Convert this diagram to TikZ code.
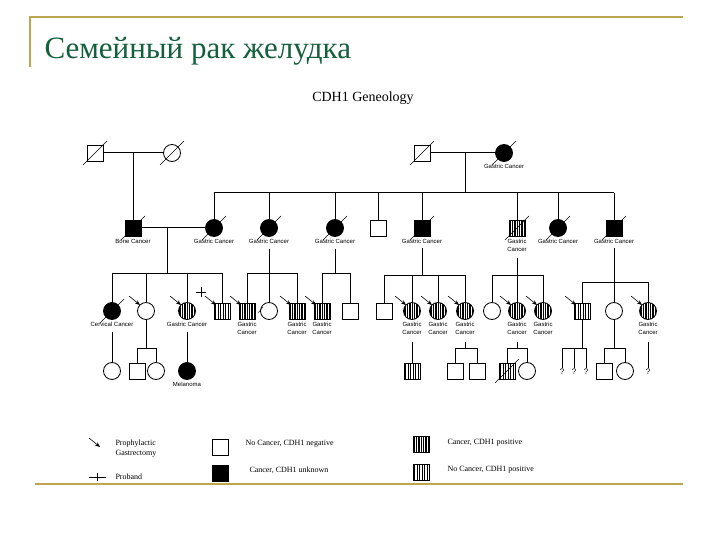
\documentclass[tikz,border=0pt]{standalone}
\usepackage{fontspec}
\setmainfont{Liberation Serif}
\newfontfamily\lab{Liberation Sans}
\usetikzlibrary{calc,arrows.meta}
\begin{document}
\begin{tikzpicture}[x=1pt,y=-1pt,line width=1pt,
 sq/.style={draw,rectangle,minimum size=16pt,inner sep=0pt,fill=white,line width=0.8pt},
 ci/.style={draw,circle,minimum size=17pt,inner sep=0pt,fill=white,line width=0.8pt},
 blk/.style={fill=black},
 dense/.style={path picture={\fill[black](path picture bounding box.south west) rectangle (path picture bounding box.north east);
   \foreach \i in {-6,-3.6,...,7}{\draw[white,line width=0.35pt]([xshift=\i pt]path picture bounding box.south)--([xshift=\i pt]path picture bounding box.north);}}},
 light/.style={path picture={\foreach \i in {-6.5,-4,...,7}{\draw[black,line width=0.5pt]([xshift=\i pt]path picture bounding box.south)--([xshift=\i pt]path picture bounding box.north);}}},
 lb/.style={font=\lab\fontsize{6}{8}\selectfont,align=center,inner sep=0pt,anchor=north},
 qm/.style={font=\lab\fontsize{8}{9}\selectfont,inner sep=0pt,anchor=north},
 lg/.style={font=\fontsize{8}{10}\selectfont,align=left,anchor=west,inner sep=0pt}]
\newcommand\dec[1]{\draw[line width=0.4pt] ($(#1)+(-12,12)$) -- ($(#1)+(12,-12)$);}
\newcommand\pg[1]{\draw[-{Stealth[length=5pt,width=4pt]},line width=0.6pt] ($(#1)+(-17,-15)$) -- ($(#1)+(-6,-6)$);}
\newcommand\sibs[4]{\draw (#2.north|-#1) -- (#3.north|-#1); \foreach \n in {#4}{\draw (\n.north) -- (\n.north|-#1);}}
\newcommand\lbl[2]{\node[lb] at ($(#1.south)+(0,2)$) {#2};}
\fill[white] (0,0) rectangle (720,540);
% slide decoration
\draw[color={rgb,255:red,190;green,165;blue,80},line width=1.2pt] (30,67) -- (30,17) -- (683,17);
\draw[color={rgb,255:red,190;green,165;blue,80},line width=1.5pt] (35,484) -- (683,484);
\node[anchor=west,text={rgb,255:red,20;green,95;blue,60},font=\fontsize{31}{34}\selectfont,inner sep=0pt] (title) at (44,51) {Семейный рак желудка};
\node[font=\fontsize{14}{16}\selectfont,inner sep=0pt] (sub) at (363,98) {CDH1 Geneology};
% generation I
\node[sq] (p1) at (95,153) {}; \node[ci] (p2) at (172,153) {};
\node[sq] (p3) at (422,153) {}; \node[ci,blk] (p4) at (504,153) {};
\draw (p1) -- (p2); \draw (p3) -- (p4);
\dec{p1}\dec{p2}\dec{p3}\dec{p4}\lbl{p4}{Gastric Cancer}
\coordinate (m1) at (133,153); \coordinate (m2) at (465,153); \coordinate (s2) at (465,193);
% generation II
\node[sq,blk] (b1) at (133,228) {};
\node[ci,blk] (c1) at (214,228) {}; \node[ci,blk] (c2) at (269,228) {};
\node[ci,blk] (c3) at (335,228) {}; \node[sq] (c4) at (378,228) {};
\node[sq,blk] (c5) at (422,228) {}; \node[sq,dense] (c6) at (517,228) {};
\node[ci,blk] (c7) at (558,228) {}; \node[sq,blk] (c8) at (614,228) {};
\draw (m1) -- (b1); \draw (m2) -- (s2);
\sibs{s2}{c1}{c8}{c1,c2,c3,c4,c5,c6,c7,c8}
\foreach \n in {b1,c1,c2,c3,c5,c6,c7,c8}{\dec{\n}}
\lbl{b1}{Bone Cancer}\lbl{c1}{Gastric Cancer}\lbl{c2}{Gastric Cancer}\lbl{c3}{Gastric Cancer}
\lbl{c5}{Gastric Cancer}\lbl{c6}{Gastric\\Cancer}\lbl{c7}{Gastric Cancer}\lbl{c8}{Gastric Cancer}
\draw (b1) -- (c1);
\coordinate (m3) at (167,228); \coordinate (s3) at (167,273);
\coordinate (s4) at (269,273); \coordinate (s5) at (335,273); \coordinate (s6) at (422,275);
\coordinate (s7) at (517,275); \coordinate (s8) at (614,282);
% generation III
\node[ci,blk] (d1) at (112,311) {}; \node[ci] (d2) at (146,311) {};
\node[ci,dense] (d3) at (187,311) {}; \node[sq,light] (d4) at (222,311) {};
\node[sq,dense] (e1) at (247,311) {}; \node[ci] (e2) at (269,311) {}; \node[sq,dense] (e3) at (297,311) {};
\node[sq,dense] (f1) at (322,311) {}; \node[sq] (f2) at (350,311) {};
\node[sq] (g1) at (384,311) {}; \node[ci,dense] (g2) at (412,311) {};
\node[ci,dense] (g3) at (438,311) {}; \node[ci,dense] (g4) at (465,311) {};
\node[ci] (h1) at (492,311) {}; \node[ci,dense] (h2) at (517,311) {}; \node[ci,dense] (h3) at (543,311) {};
\node[sq,light] (i1) at (582,311) {}; \node[ci] (i2) at (614,311) {}; \node[ci,dense] (i3) at (648,311) {};
\draw (m3) -- (s3); \sibs{s3}{d1}{d4}{d1,d2,d3,d4}
\draw ($(c2.south)+(0,12)$) -- (s4); \sibs{s4}{e1}{e3}{e1,e2,e3}
\draw ($(c3.south)+(0,12)$) -- (s5); \sibs{s5}{f1}{f2}{f1,f2}
\draw ($(c5.south)+(0,12)$) -- (s6); \sibs{s6}{g1}{g4}{g1,g2,g3,g4}
\draw ($(c6.south)+(0,22)$) -- (s7); \sibs{s7}{h1}{h3}{h1,h2,h3}
\draw ($(c8.south)+(0,12)$) -- (s8); \sibs{s8}{i1}{i3}{i1,i2,i3}
\foreach \n in {d2,d3,d4,e1,e3,f1,g2,g3,g4,h2,h3,i1,i3}{\pg{\n}}
\draw[line width=0.4pt] ($(e2)+(-6,-4)$) -- ($(e2)+(-11,2)$);
\dec{d1}
\draw[line width=0.9pt] (196,292) -- (206,292) (201,287) -- (201,297);
\lbl{d1}{Cervical Cancer}\lbl{d3}{Gastric Cancer}
\lbl{e1}{Gastric\\Cancer}\lbl{e3}{Gastric\\Cancer}\lbl{f1}{Gastric\\Cancer}
\lbl{g2}{Gastric\\Cancer}\lbl{g3}{Gastric\\Cancer}\lbl{g4}{Gastric\\Cancer}
\lbl{h2}{Gastric\\Cancer}\lbl{h3}{Gastric\\Cancer}\lbl{i3}{Gastric\\Cancer}
% generation IV
\node[ci] (j1) at (112,371) {}; \node[sq] (j2) at (137,371) {}; \node[ci] (j3) at (156,371) {};
\node[ci,blk] (j4) at (187,371) {};
\node[sq,light] (k1) at (412,371) {}; \node[sq] (k2) at (455,371) {}; \node[sq] (k3) at (477,371) {};
\node[sq,light] (k4) at (507,371) {}; \node[ci] (k5) at (527,371) {};
\node[sq] (k6) at (604,371) {}; \node[ci] (k7) at (625,371) {};
\node[qm] (q1) at (562,368) {?};
\node[qm] (q2) at (574,368) {?};
\node[qm] (q3) at (586,368) {?};
\node[qm] (q4) at (648,368) {?};
\coordinate (t1) at (146,348); \coordinate (t2) at (465,348); \coordinate (t3) at (517,348);
\coordinate (t4) at (582,348); \coordinate (t5) at (614,348);
\draw ($(d1.south)+(0,12)$) -- (j1);
\draw (d2) -- (t1); \sibs{t1}{j2}{j3}{j2,j3}
\draw ($(d3.south)+(0,12)$) -- (j4); \lbl{j4}{Melanoma}
\draw ($(g2.south)+(0,22)$) -- (k1);
\draw ($(g4.south)+(0,22)$) -- (t2); \sibs{t2}{k2}{k3}{k2,k3}
\draw ($(h2.south)+(0,22)$) -- (t3); \sibs{t3}{k4}{k5}{k4,k5}
\draw (i1) -- (t4); \sibs{t4}{q1}{q3}{q1,q2,q3}
\draw (i2) -- (t5); \sibs{t5}{k6}{k7}{k6,k7}
\draw ($(i3.south)+(0,22)$) -- (q4);
\dec{k4}
% legend
\coordinate (la) at (100,447);
\draw[-{Stealth[length=5pt,width=4pt]},line width=0.6pt] ($(la)+(-11,-9)$) -- (la);
\node[lg] (l1) at (115,449) {Prophylactic\\Gastrectomy};
\draw[line width=0.9pt] (89,477) -- (106,477) (97,473) -- (97,481);
\node[lg] (l2) at (115,477) {Proband};
\node[sq,line width=0.6pt] (l3) at (220,447) {}; \node[lg] at (245,444) {No Cancer, CDH1 negative};
\node[sq,blk] (l4) at (220,473) {}; \node[lg] at (249,470) {Cancer, CDH1 unknown};
\node[sq,dense] (l5) at (421,444) {}; \node[lg] at (447,443) {Cancer, CDH1 positive};
\node[sq,light] (l6) at (421,472) {}; \node[lg] at (447,470) {No Cancer, CDH1 positive};
\end{tikzpicture}
\end{document}
